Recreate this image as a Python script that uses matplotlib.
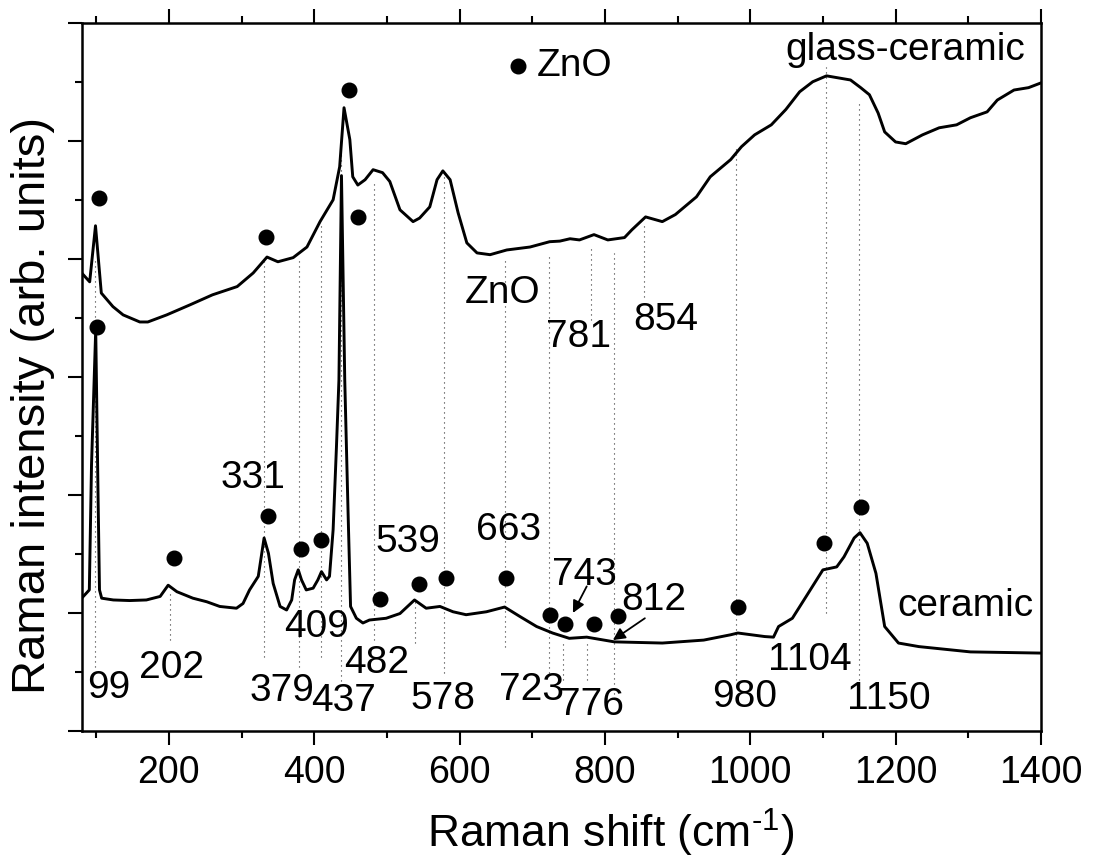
import matplotlib
matplotlib.use("Agg")
import matplotlib.pyplot as plt
from matplotlib.ticker import MultipleLocator

plt.rcParams['font.family'] = ['Liberation Sans', 'DejaVu Sans']
plt.rcParams['mathtext.fontset'] = 'custom'
plt.rcParams['mathtext.rm'] = 'Liberation Sans'
plt.rcParams['mathtext.it'] = 'Liberation Sans'

# glass-ceramic spectrum (upper)
gc_x = [80, 91, 99, 107, 123, 137, 160, 171, 197, 229, 260, 294, 316, 335, 350, 371, 390, 408, 426, 435,
        441, 449, 453, 460, 470, 481, 494, 504, 518, 536, 545, 559, 569, 577, 587, 598, 610, 624, 642, 665,
        697, 724, 738, 752, 765, 785, 804, 827, 837, 856, 879, 897, 926, 945, 973, 988, 1006, 1029, 1049, 1068,
        1086, 1105, 1138, 1152, 1164, 1176, 1185, 1200, 1214, 1237, 1260, 1284, 1303, 1326, 1340, 1363, 1383, 1400]
gc_y = [7.76, 7.61, 8.56, 7.42, 7.19, 7.05, 6.93, 6.93, 7.05, 7.22, 7.39, 7.53, 7.76, 8.03, 7.95, 8.02, 8.20, 8.63, 9.00, 9.56,
        10.56, 10.02, 9.39, 9.25, 9.34, 9.51, 9.46, 9.31, 8.83, 8.63, 8.69, 8.88, 9.34, 9.49, 9.34, 8.78, 8.27, 8.10, 8.07, 8.15,
        8.20, 8.29, 8.30, 8.34, 8.32, 8.41, 8.32, 8.36, 8.49, 8.71, 8.63, 8.75, 9.05, 9.39, 9.68, 9.90, 10.10, 10.27, 10.53, 10.83,
        11.00, 11.10, 11.03, 10.90, 10.78, 10.47, 10.15, 9.98, 9.95, 10.10, 10.22, 10.27, 10.39, 10.49, 10.69, 10.86, 10.90, 10.98]

# ceramic spectrum (lower)
c_x = [80, 90.5, 93.5, 99.3, 102.5, 104.5, 107.5, 123.5, 146, 169, 188, 199, 211, 233, 252, 270, 293, 302, 311, 323,
       331, 337, 343.5, 353, 362, 369, 373, 378, 382.5, 389, 398.5, 405, 410, 417, 421, 426, 430.6, 434, 437.5, 442,
       446.6, 450, 458, 467, 476, 499, 518, 538, 554, 573, 591, 609, 637, 662, 683, 706, 728, 751, 775, 813,
       879, 936, 973, 983, 1020, 1032, 1039, 1058, 1077, 1100, 1119, 1129, 1143, 1151, 1161, 1173, 1185, 1204, 1232, 1303,
       1400]
c_y = [2.25, 2.39, 4.5, 6.80, 4.0, 2.39, 2.25, 2.22, 2.21, 2.22, 2.28, 2.47, 2.36, 2.25, 2.19, 2.11, 2.08, 2.16, 2.39, 2.62,
       3.27, 3.01, 2.50, 2.11, 2.05, 2.22, 2.56, 2.73, 2.56, 2.39, 2.42, 2.56, 2.70, 2.56, 2.62, 3.41, 4.82, 5.95, 9.41, 5.95,
       3.69, 2.11, 1.91, 1.83, 1.88, 1.91, 1.99, 2.22, 2.08, 2.11, 2.02, 1.97, 2.02, 2.10, 1.94, 1.77, 1.66, 1.57, 1.59, 1.51,
       1.49, 1.54, 1.63, 1.66, 1.60, 1.59, 1.77, 1.91, 2.28, 2.73, 2.78, 2.95, 3.27, 3.36, 3.18, 2.67, 1.77, 1.49, 1.43, 1.34,
       1.32]

# ZnO markers
dot_x = [104, 333, 447.5, 460,
         100.6, 207.4, 335.8, 381.5, 409, 490.2, 544.2, 581, 663.4, 723.9, 744.6, 784.8, 817.7, 983.6, 1101.8, 1152.1]
dot_y = [9.03, 8.37, 10.86, 8.71,
         6.85, 2.93, 3.64, 3.08, 3.23, 2.24, 2.49, 2.59, 2.59, 1.97, 1.81, 1.81, 1.94, 2.10, 3.18, 3.80]

# dotted guide lines: position, top, bottom
vl_x = [99, 202, 331, 379, 409, 437, 482, 539, 578, 663, 723, 743, 776, 781, 812, 854, 980, 1104, 1150]
vl_top = [7.98, 2.39, 7.98, 8.03, 8.61, 9.80, 9.34, 2.22, 9.46, 8.03, 8.07, 1.54, 1.54, 8.19, 8.10, 8.61, 9.90, 11.25, 10.64]
vl_bot = [1.08, 1.54, 1.26, 1.09, 1.26, 0.84, 1.54, 1.49, 0.98, 1.43, 0.98, 0.86, 0.86, 6.97, 0.55, 7.36, 0.86, 2.00, 0.86]

# peak labels
lab_text = ["99", "202", "331", "379", "409", "437", "482", "539", "578", "663", "723", "743", "776", "812",
            "980", "1104", "1150", "781", "854", "ZnO", "ceramic", "glass-ceramic"]
lab_x = [116.6, 203.7, 316, 355, 403, 440, 486, 529, 577, 668, 699, 772, 782, 867,
         992, 1081.5, 1191, 764, 884, 659, 1296, 1213]
lab_y = [0.72, 1.06, 4.28, 0.67, 1.77, 0.50, 1.15, 3.21, 0.55, 3.41, 0.69, 2.64, 0.44, 2.22,
         0.58, 1.20, 0.55, 6.68, 6.97, 7.42, 2.11, 11.54]

# arrows: (text end) -> (target)
arr_from = [(775, 2.45), (855, 1.91)]
arr_to = [(756, 2.0), (811, 1.54)]

legend_dot = (680.4, 11.26)
legend_text = (706, 11.26)

fig = plt.figure(figsize=(10.98, 8.61), dpi=100)
ax = fig.add_axes([0.0744, 0.151, 0.948 - 0.0744, 0.9736 - 0.151])

for x, t, b in zip(vl_x, vl_top, vl_bot):
    ax.plot([x, x], [b, t], color='0.2', lw=0.8, linestyle=(0, (1, 3.5)), zorder=1)

ax.plot(gc_x, gc_y, color='black', lw=2.1, zorder=3)
ax.plot(c_x, c_y, color='black', lw=2.1, zorder=3)
ax.plot(dot_x, dot_y, 'o', color='black', ms=10.5, zorder=4)

fs = 28
for t, x, y in zip(lab_text, lab_x, lab_y):
    ax.text(x, y, t, fontsize=fs, ha='center', va='center', zorder=5)

for (x0, y0), (x1, y1) in zip(arr_from, arr_to):
    ax.annotate('', xy=(x1, y1), xytext=(x0, y0),
                arrowprops=dict(arrowstyle='-|>', color='black', lw=1.3, mutation_scale=18,
                                shrinkA=0, shrinkB=0), zorder=5)

ax.plot([legend_dot[0]], [legend_dot[1]], 'o', color='black', ms=10.5)
ax.text(legend_text[0], legend_text[1], "ZnO", fontsize=fs, ha='left', va='center')

ax.set_xlim(80, 1400)
ax.set_ylim(0, 12)
ax.xaxis.set_major_locator(MultipleLocator(200))
ax.xaxis.set_minor_locator(MultipleLocator(100))
ax.yaxis.set_major_locator(MultipleLocator(2))
ax.yaxis.set_minor_locator(MultipleLocator(1))
ax.tick_params(which='both', direction='out', top=True, bottom=True, left=True, right=False,
               labelleft=False, width=1.5, labelsize=27, pad=7)
ax.tick_params(which='major', length=10)
ax.tick_params(which='minor', length=5)
for s in ax.spines.values():
    s.set_linewidth(1.8)

fig.text(611 / 1098, 1 - 848 / 861, r"Raman shift (cm$^{\text{-1}}$)", fontsize=32,
         ha='center', va='baseline')
fig.text(33 / 1098, 1 - 405 / 861, "Raman intensity (arb. units)", fontsize=34,
         ha='center', va='center', rotation=90)

fig.savefig("out.png", dpi=100)
